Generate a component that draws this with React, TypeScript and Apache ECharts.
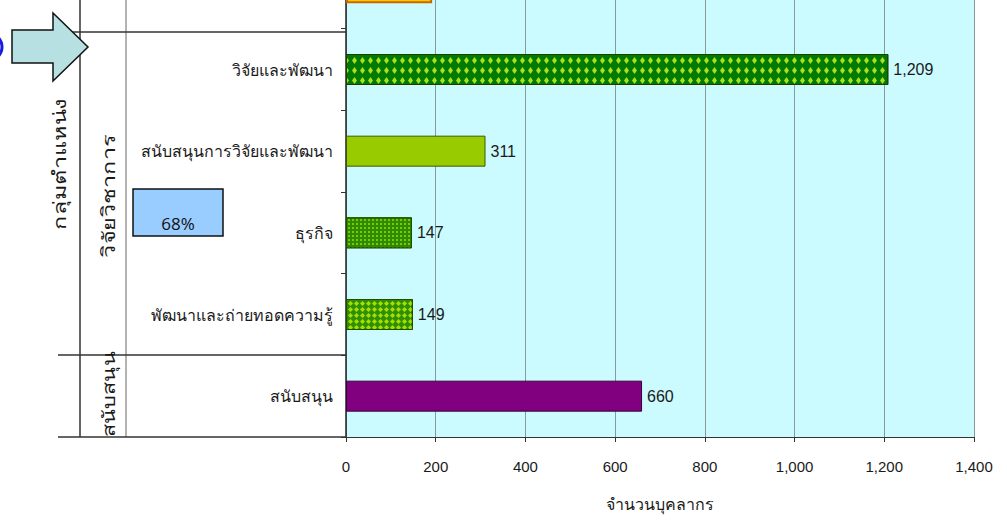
import React, { useEffect, useRef } from "react";
import * as echarts from "echarts";

const categories = [
  "สนับสนุน",
  "พัฒนาและถ่ายทอดความรู้",
  "ธุรกิจ",
  "สนับสนุนการวิจัยและพัฒนา",
  "วิจัยและพัฒนา",
  "บริหาร",
];
const values = [660, 149, 147, 311, 1209, 192];
const xTicks = [0, 200, 400, 600, 800, 1000, 1200, 1400];
const groupLabels = ["กลุ่มตำแหน่ง", "วิจัยวิชาการ", "สนับสนุน"];
const shareLabel = "68%";
const axisTitle = "จำนวนบุคลากร";

const OFF = 53;
const THAI = 'Tahoma, "Noto Sans", "DejaVu Sans", sans-serif';
const NARROW = '"Liberation Sans Narrow", "Liberation Sans", Arial, sans-serif';

const barStyles: any[] = [
  { color: "#800080", borderColor: "#3a003a", borderWidth: 1 },
  {
    color: "#2f8f00",
    borderColor: "#1f4f00",
    borderWidth: 1,
    decal: { symbol: "diamond", color: "#a6e000", dashArrayX: [5, 1], dashArrayY: [5, 1], symbolSize: 1 },
  },
  {
    color: "#2f8a00",
    borderColor: "#1f4f00",
    borderWidth: 1,
    decal: { symbol: "rect", color: "#77cc00", dashArrayX: [2, 2], dashArrayY: [2, 2], symbolSize: 1 },
  },
  { color: "#99cc00", borderColor: "#3b5a00", borderWidth: 1 },
  {
    color: "#007a00",
    borderColor: "#1f3f00",
    borderWidth: 1,
    decal: { symbol: "diamond", color: "#a8e020", dashArrayX: [5, 3], dashArrayY: [7, 3], symbolSize: 1 },
  },
  { color: "#ffcc00", borderColor: "#cc6600", borderWidth: 2 },
];

export default function App() {
  const ref = useRef<HTMLDivElement>(null);
  useEffect(() => {
    if (!ref.current) return;
    const chart = echarts.init(ref.current, undefined, { renderer: "svg" });
    const ln = (x1: number, y1: number, x2: number, y2: number, color = "#333", w = 1.5) => ({
      type: "line",
      shape: { x1, y1: y1 + OFF, x2, y2: y2 + OFF },
      style: { stroke: color, lineWidth: w },
      z: 10,
    });
    const vText = (text: string, x: number, y: number, sx: number) => ({
      type: "text",
      x,
      y: y + OFF,
      rotation: Math.PI / 2,
      scaleX: sx,
      style: { text, fontFamily: THAI, fontSize: 18, fill: "#1a1a1a", align: "center", verticalAlign: "middle" },
      z: 11,
    });
    chart.setOption({
      animation: false,
      backgroundColor: "#ffffff",
      grid: { left: 346, right: 33, top: 0, bottom: 83, show: true, backgroundColor: "#ccfbff", borderWidth: 0 },
      xAxis: {
        type: "value",
        min: 0,
        max: 1400,
        interval: 200,
        name: axisTitle,
        nameLocation: "middle",
        nameGap: 59,
        nameTextStyle: { fontFamily: THAI, fontSize: 16, color: "#1a1a1a" },
        axisLine: { show: true, lineStyle: { color: "#333", width: 1 } },
        axisTick: { show: true, length: 5, lineStyle: { color: "#333" } },
        axisLabel: {
          margin: 22,
          fontFamily: NARROW,
          fontSize: 15,
          color: "#1a1a1a",
          formatter: (v: number) => v.toLocaleString("en-US"),
        },
        splitLine: { show: true, lineStyle: { color: "#8a9a9a", width: 1 } },
      },
      yAxis: {
        type: "category",
        data: categories,
        axisLine: { show: true, lineStyle: { color: "#222", width: 1.5 } },
        axisTick: { show: true, length: 5, lineStyle: { color: "#333" } },
        axisLabel: { margin: 13, fontFamily: THAI, fontSize: 16, color: "#1a1a1a" },
      },
      series: [
        {
          type: "bar",
          barWidth: 31,
          data: values.map((v, i) => ({ value: v, itemStyle: barStyles[i] })),
          label: {
            show: true,
            position: "right",
            distance: 5,
            fontFamily: NARROW,
            fontSize: 16,
            color: "#1a1a1a",
            formatter: (p: any) => Number(p.value).toLocaleString("en-US"),
          },
        },
      ],
      graphic: [
        ln(80, -60, 80, 437, "#333", 1.5),
        ln(126, -60, 126, 437, "#666", 1),
        ln(58, 32, 346, 32, "#333", 1.5),
        ln(58, 355, 346, 355, "#333", 1.5),
        ln(58, 437, 346, 437, "#333", 1.5),
        vText(groupLabels[0], 59, 164, 1.3),
        vText(groupLabels[1], 108, 196, 1.3),
        vText(groupLabels[2], 108, 394, 1.2),
        {
          type: "rect",
          shape: { x: 133, y: 189 + OFF, width: 90, height: 47 },
          style: { fill: "#99ccff", stroke: "#111", lineWidth: 1.5 },
          z: 12,
        },
        {
          type: "text",
          x: 178,
          y: 223 + OFF,
          style: { text: shareLabel, fontFamily: '"Open Sans", sans-serif', fontSize: 17, fill: "#111", align: "center", verticalAlign: "middle" },
          z: 13,
        },
        {
          type: "polygon",
          shape: {
            points: [
              [12, 30 + OFF],
              [53, 30 + OFF],
              [53, 13 + OFF],
              [88, 47 + OFF],
              [53, 81 + OFF],
              [53, 63 + OFF],
              [12, 63 + OFF],
            ],
          },
          style: { fill: "#b7e0e3", stroke: "#111", lineWidth: 1.5 },
          z: 14,
        },
        {
          type: "ellipse",
          shape: { cx: -18, cy: 47 + OFF, rx: 20, ry: 16 },
          style: { fill: "none", stroke: "#1a1ae0", lineWidth: 3 },
          z: 14,
        },
      ],
    });
    return () => chart.dispose();
  }, []);
  return (
    <div style={{ position: "fixed", left: 0, top: 0, width: 1007, height: 520, overflow: "hidden", background: "#fff" }}>
      <div ref={ref} style={{ position: "absolute", left: 0, top: -OFF, width: 1007, height: 520 + OFF }} />
    </div>
  );
}
